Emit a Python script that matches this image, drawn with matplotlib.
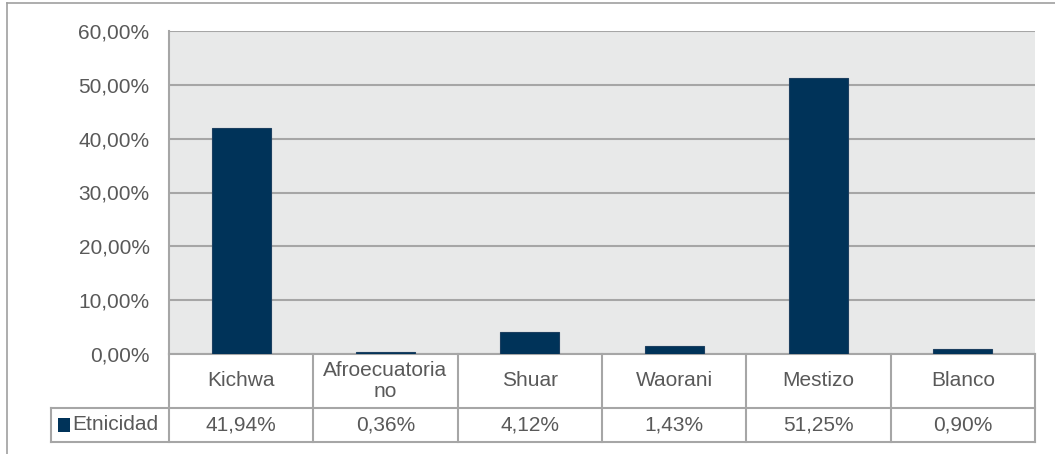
import matplotlib.pyplot as plt
from matplotlib.patches import Rectangle
from matplotlib.transforms import blended_transform_factory
from matplotlib.lines import Line2D

plt.rcParams['font.family'] = ['Liberation Sans', 'DejaVu Sans']

# data
categorias = ['Kichwa', 'Afroecuatoria\nno', 'Shuar', 'Waorani', 'Mestizo', 'Blanco']
etnicidad = [41.94, 0.36, 4.12, 1.43, 51.25, 0.90]
serie = 'Etnicidad'
yticks = [0, 10, 20, 30, 40, 50, 60]

W, H = 1055, 454
fs = 15
txt_color = '#595959'
grid_color = '#a6a6a6'
bar_color = '#003359'

fig = plt.figure(figsize=(W / 100, H / 100), dpi=100)

# outer chart frame (only left and top edges visible)
fx, fy = 6.5 / W, 1 - 2.5 / H
fig.add_artist(Line2D([fx, fx], [0, fy], transform=fig.transFigure, color='#a0a0a0', lw=1.2))
fig.add_artist(Line2D([fx, 1], [fy, fy], transform=fig.transFigure, color='#a0a0a0', lw=1.2))

# plot area in pixels
left, right, top, bottom = 169, 1035, 31, 354
ax = fig.add_axes([left / W, 1 - bottom / H, (right - left) / W, (bottom - top) / H])
ax.set_facecolor('#e8e9e9')

x = range(len(categorias))
ax.bar(x, etnicidad, width=0.41, color=bar_color, edgecolor='#1c3f60', lw=0.8, zorder=3)

ax.set_xlim(-0.5, len(categorias) - 0.5)
ax.set_ylim(0, 60)
ax.set_yticks(yticks)
ax.set_yticklabels([f'{v:.2f}%'.replace('.', ',') for v in yticks],
                   fontsize=fs, color=txt_color)
ax.tick_params(axis='y', length=0, pad=14)
ax.set_xticks([])
ax.grid(axis='y', color=grid_color, lw=1.5, zorder=1)
for s in ['top', 'right', 'bottom']:
    ax.spines[s].set_visible(False)
ax.spines['left'].set_color(grid_color)
ax.spines['left'].set_linewidth(1.5)

# data table below the plot
ph = bottom - top
tr = blended_transform_factory(ax.transData, ax.transAxes)
r1 = -(408 - bottom) / ph
r2 = -(442 - bottom) / ph
n = len(categorias)
xl = -0.5 - (left - 51) / ((right - left) / n)
lk = dict(color=grid_color, lw=1.5, transform=tr, clip_on=False)

ax.add_line(Line2D([-0.5, n - 0.5], [0, 0], **lk))
ax.add_line(Line2D([xl, n - 0.5], [r1, r1], **lk))
ax.add_line(Line2D([xl, n - 0.5], [r2, r2], **lk))
ax.add_line(Line2D([xl, xl], [r1, r2], **lk))
for i in range(n + 1):
    ax.add_line(Line2D([i - 0.5, i - 0.5], [0, r2], **lk))

for i, (c, v) in enumerate(zip(categorias, etnicidad)):
    ax.text(i, r1 / 2, c, transform=tr, ha='center', va='center', fontsize=fs,
            color=txt_color, linespacing=1.1)
    ax.text(i, (r1 + r2) / 2, f'{v:.2f}%'.replace('.', ','), transform=tr,
            ha='center', va='center', fontsize=fs, color=txt_color)

# legend key in table
ax.add_patch(Rectangle((xl + 0.05, (r1 + r2) / 2 - 0.021), 0.085, 0.042, transform=tr,
                       facecolor=bar_color, edgecolor='none', clip_on=False))
ax.text(xl + 0.15, (r1 + r2) / 2, serie, transform=tr, ha='left', va='center',
        fontsize=fs, color=txt_color)

fig.savefig('out.png', dpi=100)
